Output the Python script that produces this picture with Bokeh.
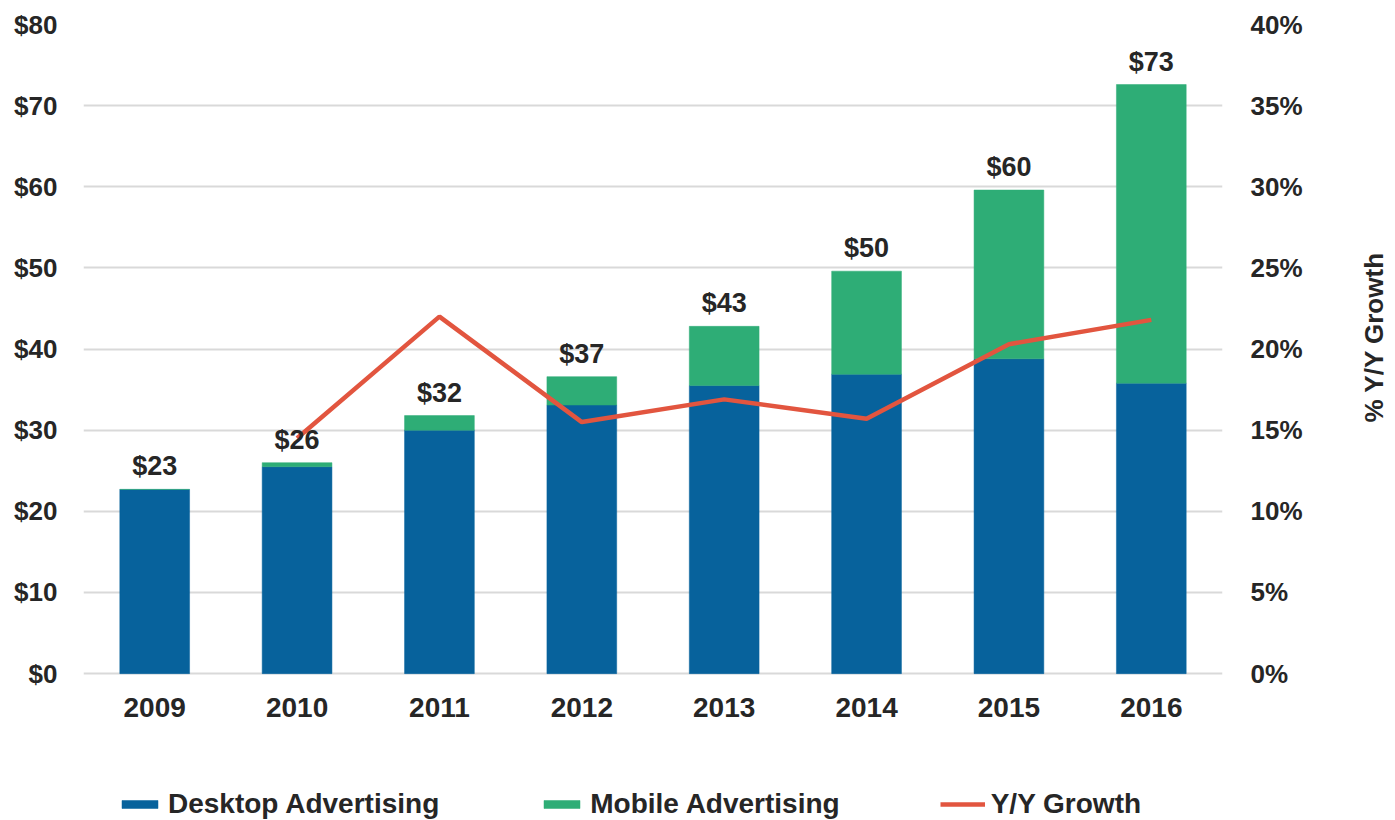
import math
from bokeh.plotting import figure
from bokeh.models import (FactorRange, Range1d, LinearAxis, FixedTicker, NumeralTickFormatter,
                          Legend, LegendItem, ColumnDataSource)
from bokeh.core.properties import value
from bokeh.embed import file_html
from bokeh.resources import INLINE

# ---- data ----
years = ["2009", "2010", "2011", "2012", "2013", "2014", "2015", "2016"]
desktop = [22.7, 25.5, 30.0, 33.1, 35.5, 36.9, 38.8, 35.8]
mobile = [0.0, 0.5, 1.8, 3.5, 7.3, 12.7, 20.8, 36.8]
growth_years = ["2010", "2011", "2012", "2013", "2014", "2015", "2016"]
growth = [0.145, 0.220, 0.155, 0.169, 0.157, 0.203, 0.218]
left_ticks = [0, 10, 20, 30, 40, 50, 60, 70, 80]
right_ticks = [0, 0.05, 0.10, 0.15, 0.20, 0.25, 0.30, 0.35, 0.40]
series_names = ["Desktop Advertising", "Mobile Advertising", "Y/Y Growth"]
axis_right_title = "% Y/Y Growth"

# ---- styles ----
BLUE = "#07629C"
GREEN = "#2EAD76"
RED = "#E2553F"
TXT = "#262626"
FONTN = "Liberation Sans"
FONT = value(FONTN)

# value axes: $0-$80 on the left, 0-40% on the right (same scale ratio);
# the frame extends below zero to leave room for year labels and the legend
Y_TOP, Y_BOTTOM = 80, -18.1
G_RATIO = 0.40 / 80

totals = [d + m for d, m in zip(desktop, mobile)]
labels = ["$%d" % int(round(t)) for t in totals]
src = ColumnDataSource(dict(year=years, desktop=desktop, mobile=mobile, total=totals,
                            label=labels, zero=[0] * len(years)))

p = figure(x_range=FactorRange(*years, range_padding=0, factor_padding=0),
           y_range=Range1d(Y_BOTTOM, Y_TOP),
           frame_width=1139, frame_height=796,
           min_border_left=83, min_border_right=170, min_border_top=24, min_border_bottom=0,
           output_backend="svg", toolbar_location=None)
p.outline_line_color = None
p.background_fill_color = "white"
p.border_fill_color = "white"

p.extra_y_ranges = {"growth": Range1d(Y_BOTTOM * G_RATIO, Y_TOP * G_RATIO)}

bars = p.vbar_stack(["desktop", "mobile"], x="year", width=0.49, source=src,
                    fill_color=[BLUE, GREEN], line_color=[BLUE, GREEN], line_width=0.5)
ln = p.line(x=growth_years, y=growth, y_range_name="growth", line_color=RED, line_width=4.5)

# total labels above bars
p.text(x="year", y="total", text="label", source=src, text_align="center",
       text_baseline="bottom", y_offset=-8, text_font=FONT, text_font_style="bold",
       text_font_size="27px", text_color=TXT)

# year (category) labels under the bars
p.text(x="year", y="zero", text="year", source=src, text_align="center",
       text_baseline="middle", y_offset=34, text_font=FONT, text_font_style="bold",
       text_font_size="28px", text_color=TXT)
p.xaxis.visible = False

# left axis
ya = p.yaxis[0]
ya.ticker = FixedTicker(ticks=left_ticks)
ya.formatter = NumeralTickFormatter(format="$0")

# right axis
yr = LinearAxis(y_range_name="growth", ticker=FixedTicker(ticks=right_ticks),
                formatter=NumeralTickFormatter(format="0%"))
p.add_layout(yr, "right")

for ax in [ya, yr]:
    ax.axis_line_color = None
    ax.major_tick_line_color = None
    ax.minor_tick_line_color = None
    ax.major_label_text_font = FONTN
    ax.major_label_text_font_style = "bold"
    ax.major_label_text_font_size = "26px"
    ax.major_label_text_color = TXT
ya.major_label_standoff = 20
yr.major_label_standoff = 22

# right axis title
yr.axis_label = axis_right_title
yr.axis_label_text_font = FONTN
yr.axis_label_text_font_style = "bold"
yr.axis_label_text_font_size = "26px"
yr.axis_label_text_color = TXT
yr.axis_label_standoff = 68
try:
    yr.axis_label_orientation = math.pi / 2
except Exception:
    pass

p.xgrid.grid_line_color = None
p.ygrid.ticker = FixedTicker(ticks=left_ticks)
p.ygrid.grid_line_color = "#D9D9D9"
p.ygrid.grid_line_width = 2

legend = Legend(items=[LegendItem(label=series_names[0], renderers=[bars[0]]),
                       LegendItem(label=series_names[1], renderers=[bars[1]]),
                       LegendItem(label=series_names[2], renderers=[ln])],
                orientation="horizontal", location=(34, 0), margin=0, padding=0,
                spacing=100, glyph_width=45, glyph_height=10, label_standoff=6,
                label_text_font=FONTN, label_text_font_style="bold", label_text_font_size="28px",
                label_text_color=TXT, border_line_color=None, background_fill_alpha=0)
p.add_layout(legend, "center")

open("out.html", "w").write(file_html(p, INLINE))
